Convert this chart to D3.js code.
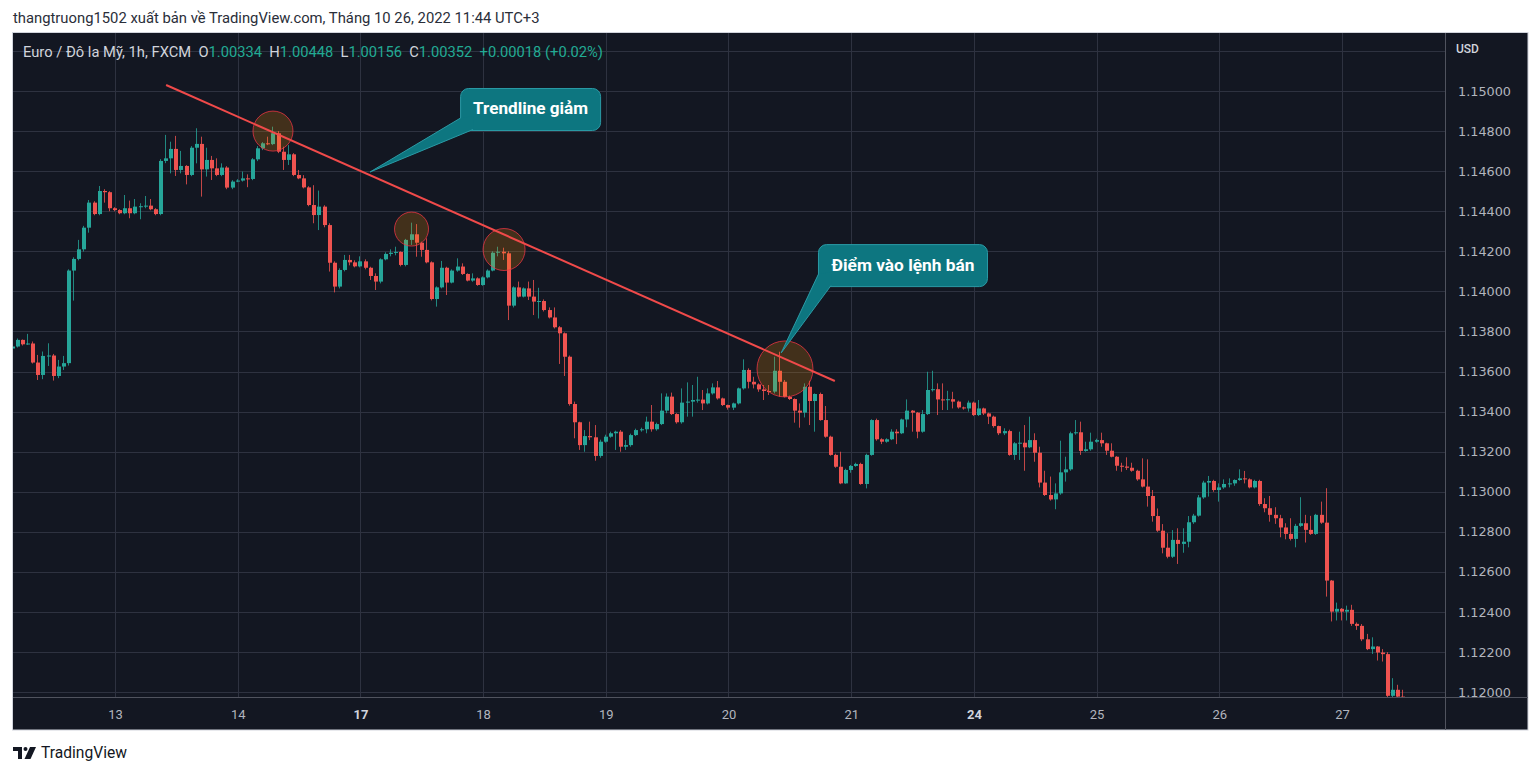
<!DOCTYPE html>
<html><head><meta charset="utf-8">
<script src="https://cdn.jsdelivr.net/npm/d3@7"></script>
<style>html,body{margin:0;padding:0;background:#fff;}svg{display:block;}</style>
</head><body>
<svg id="c" width="1536" height="775"></svg>
<script>
// ---------------- DATA (EUR/USD, 1h candles) ----------------
const openP=[
1.13715,1.13725,1.13758,1.13736,1.13740,1.13645,1.13583,1.13678,1.13680,1.13578,
1.13625,1.13642,1.14104,1.14162,1.14210,1.14318,1.14443,1.14386,1.14501,1.14495,
1.14415,1.14406,1.14390,1.14415,1.14390,1.14423,1.14425,1.14428,1.14410,1.14386,
1.14651,1.14664,1.14711,1.14606,1.14626,1.14581,1.14717,1.14736,1.14609,1.14656,
1.14614,1.14581,1.14618,1.14518,1.14548,1.14553,1.14564,1.14561,1.14659,1.14714,
1.14739,1.14735,1.14789,1.14697,1.14656,1.14684,1.14581,1.14564,1.14519,1.14431,
1.14381,1.14423,1.14331,1.14143,1.14024,1.14107,1.14157,1.14145,1.14125,1.14150,
1.14118,1.14077,1.14049,1.14160,1.14187,1.14193,1.14197,1.14132,1.14257,1.14285,
1.14243,1.14207,1.14145,1.13962,1.14020,1.14118,1.14044,1.14104,1.14124,1.14087,
1.14054,1.14065,1.14032,1.14070,1.14104,1.14193,1.14198,1.14190,1.13929,1.14020,
1.13974,1.14015,1.13974,1.13949,1.13952,1.13907,1.13870,1.13821,1.13791,1.13674,
1.13438,1.13347,1.13233,1.13278,1.13272,1.13179,1.13250,1.13275,1.13292,1.13300,
1.13225,1.13233,1.13283,1.13308,1.13312,1.13350,1.13312,1.13338,1.13405,1.13475,
1.13388,1.13347,1.13445,1.13450,1.13458,1.13460,1.13441,1.13491,1.13521,1.13466,
1.13433,1.13420,1.13441,1.13516,1.13608,1.13549,1.13536,1.13511,1.13503,1.13500,
1.13604,1.13549,1.13474,1.13463,1.13405,1.13395,1.13524,1.13453,1.13488,1.13358,
1.13275,1.13184,1.13125,1.13042,1.13109,1.13129,1.13139,1.13039,1.13184,1.13358,
1.13262,1.13250,1.13262,1.13300,1.13292,1.13361,1.13405,1.13395,1.13300,1.13388,
1.13508,1.13512,1.13461,1.13458,1.13462,1.13450,1.13421,1.13416,1.13445,1.13383,
1.13416,1.13391,1.13375,1.13328,1.13292,1.13303,1.13184,1.13242,1.13245,1.13222,
1.13258,1.13195,1.13046,1.12984,1.12962,1.12992,1.13097,1.13112,1.13292,1.13297,
1.13204,1.13212,1.13250,1.13258,1.13242,1.13205,1.13175,1.13130,1.13126,1.13120,
1.13105,1.13062,1.13026,1.12979,1.12879,1.12806,1.12721,1.12676,1.12760,1.12740,
1.12751,1.12848,1.12881,1.12972,1.13046,1.13054,1.13009,1.13022,1.13039,1.13042,
1.13059,1.13067,1.13062,1.13022,1.13054,1.12939,1.12918,1.12885,1.12868,1.12822,
1.12790,1.12765,1.12830,1.12843,1.12810,1.12790,1.12885,1.12846,1.12557,1.12402,
1.12416,1.12402,1.12411,1.12341,1.12331,1.12264,1.12215,1.12228,1.12198,1.12190,
1.11982,1.12012,1.11978];
const highP=[
1.13735,1.13765,1.13760,1.13788,1.13750,1.13683,1.13700,1.13741,1.13688,1.13658,
1.13678,1.14110,1.14170,1.14257,1.14327,1.14456,1.14450,1.14526,1.14510,1.14500,
1.14420,1.14410,1.14481,1.14453,1.14461,1.14440,1.14476,1.14461,1.14415,1.14660,
1.14781,1.14747,1.14776,1.14701,1.14630,1.14725,1.14814,1.14772,1.14717,1.14676,
1.14664,1.14639,1.14625,1.14555,1.14560,1.14598,1.14584,1.14665,1.14725,1.14745,
1.14772,1.14822,1.14800,1.14722,1.14730,1.14690,1.14606,1.14580,1.14525,1.14530,
1.14503,1.14430,1.14340,1.14150,1.14115,1.14182,1.14182,1.14155,1.14175,1.14160,
1.14123,1.14090,1.14165,1.14195,1.14210,1.14223,1.14200,1.14262,1.14343,1.14336,
1.14248,1.14265,1.14150,1.14025,1.14152,1.14123,1.14110,1.14165,1.14140,1.14090,
1.14090,1.14070,1.14075,1.14110,1.14200,1.14223,1.14218,1.14200,1.14025,1.14049,
1.14020,1.14049,1.14057,1.14018,1.13960,1.13920,1.13920,1.13827,1.13795,1.13680,
1.13450,1.13350,1.13308,1.13350,1.13333,1.13260,1.13285,1.13300,1.13305,1.13308,
1.13258,1.13290,1.13315,1.13320,1.13375,1.13433,1.13345,1.13491,1.13491,1.13495,
1.13392,1.13516,1.13546,1.13533,1.13574,1.13508,1.13516,1.13541,1.13553,1.13470,
1.13435,1.13445,1.13520,1.13661,1.13616,1.13574,1.13541,1.13533,1.13533,1.13674,
1.13699,1.13558,1.13480,1.13466,1.13441,1.13541,1.13554,1.13491,1.13495,1.13428,
1.13280,1.13190,1.13200,1.13115,1.13134,1.13145,1.13145,1.13190,1.13362,1.13365,
1.13267,1.13267,1.13312,1.13312,1.13365,1.13461,1.13408,1.13398,1.13408,1.13599,
1.13604,1.13541,1.13541,1.13504,1.13499,1.13455,1.13425,1.13455,1.13450,1.13458,
1.13420,1.13395,1.13380,1.13330,1.13317,1.13310,1.13248,1.13300,1.13333,1.13375,
1.13292,1.13225,1.13105,1.13076,1.13042,1.13255,1.13175,1.13300,1.13358,1.13350,
1.13250,1.13295,1.13265,1.13295,1.13245,1.13242,1.13178,1.13145,1.13172,1.13145,
1.13110,1.13167,1.13162,1.13009,1.12917,1.12839,1.12793,1.12809,1.12818,1.12818,
1.12879,1.12890,1.12984,1.13055,1.13079,1.13060,1.13042,1.13062,1.13067,1.13062,
1.13112,1.13104,1.13067,1.13060,1.13060,1.12968,1.12979,1.12923,1.12885,1.12843,
1.12868,1.12840,1.12973,1.12885,1.12880,1.12890,1.12951,1.13018,1.12560,1.12447,
1.12420,1.12432,1.12436,1.12348,1.12340,1.12291,1.12274,1.12230,1.12215,1.12200,
1.12070,1.12037,1.12012];
const lowP=[
1.13700,1.13720,1.13730,1.13733,1.13640,1.13558,1.13562,1.13628,1.13555,1.13567,
1.13608,1.13630,1.13954,1.14155,1.14199,1.14293,1.14380,1.14380,1.14443,1.14400,
1.14400,1.14385,1.14385,1.14365,1.14385,1.14360,1.14415,1.14405,1.14380,1.14380,
1.14640,1.14589,1.14576,1.14589,1.14534,1.14575,1.14639,1.14473,1.14573,1.14556,
1.14575,1.14575,1.14510,1.14510,1.14545,1.14548,1.14520,1.14555,1.14650,1.14705,
1.14730,1.14730,1.14690,1.14606,1.14631,1.14575,1.14560,1.14514,1.14425,1.14340,
1.14306,1.14320,1.14099,1.13995,1.14015,1.14100,1.14130,1.14120,1.14120,1.14110,
1.14057,1.14007,1.14040,1.14155,1.14175,1.14180,1.14125,1.14125,1.14232,1.14173,
1.14173,1.14140,1.13955,1.13924,1.14015,1.13982,1.14040,1.14098,1.14082,1.14050,
1.14048,1.14028,1.14028,1.14065,1.14100,1.14175,1.14157,1.13857,1.13920,1.13970,
1.13970,1.13957,1.13882,1.13865,1.13900,1.13865,1.13815,1.13638,1.13578,1.13430,
1.13267,1.13209,1.13200,1.13258,1.13155,1.13170,1.13245,1.13270,1.13209,1.13200,
1.13209,1.13225,1.13278,1.13300,1.13292,1.13300,1.13305,1.13333,1.13392,1.13383,
1.13340,1.13340,1.13375,1.13375,1.13445,1.13408,1.13436,1.13485,1.13460,1.13428,
1.13410,1.13408,1.13436,1.13510,1.13516,1.13516,1.13499,1.13458,1.13483,1.13491,
1.13474,1.13471,1.13458,1.13345,1.13320,1.13371,1.13333,1.13300,1.13355,1.13270,
1.13180,1.13120,1.13038,1.13040,1.13095,1.13125,1.13035,1.13017,1.13180,1.13255,
1.13238,1.13245,1.13258,1.13238,1.13288,1.13322,1.13300,1.13267,1.13295,1.13383,
1.13500,1.13383,1.13408,1.13408,1.13416,1.13415,1.13410,1.13400,1.13378,1.13378,
1.13383,1.13338,1.13320,1.13283,1.13283,1.13180,1.13159,1.13159,1.13105,1.13218,
1.13150,1.13022,1.12979,1.12956,1.12913,1.12985,1.13051,1.13105,1.13285,1.13184,
1.13200,1.13205,1.13245,1.13225,1.13184,1.13172,1.13105,1.13100,1.13109,1.13100,
1.13055,1.13022,1.12926,1.12851,1.12800,1.12693,1.12668,1.12670,1.12640,1.12696,
1.12723,1.12840,1.12876,1.12965,1.12976,1.13000,1.12951,1.13015,1.13022,1.13030,
1.13055,1.13042,1.13017,1.13017,1.12930,1.12898,1.12851,1.12840,1.12773,1.12763,
1.12757,1.12723,1.12825,1.12747,1.12785,1.12785,1.12840,1.12477,1.12353,1.12358,
1.12358,1.12358,1.12331,1.12311,1.12255,1.12210,1.12191,1.12158,1.12153,1.11975,
1.11975,1.11970,1.11960];
const closeP=[
1.13725,1.13758,1.13736,1.13740,1.13645,1.13583,1.13678,1.13680,1.13578,1.13625,
1.13642,1.14104,1.14162,1.14210,1.14318,1.14443,1.14386,1.14501,1.14495,1.14415,
1.14406,1.14390,1.14415,1.14390,1.14423,1.14425,1.14428,1.14410,1.14386,1.14651,
1.14664,1.14711,1.14606,1.14626,1.14581,1.14717,1.14736,1.14609,1.14656,1.14614,
1.14581,1.14618,1.14518,1.14548,1.14553,1.14564,1.14561,1.14659,1.14714,1.14739,
1.14735,1.14789,1.14697,1.14656,1.14684,1.14581,1.14564,1.14519,1.14431,1.14381,
1.14423,1.14331,1.14143,1.14024,1.14107,1.14157,1.14145,1.14125,1.14150,1.14118,
1.14077,1.14049,1.14160,1.14187,1.14193,1.14197,1.14132,1.14257,1.14285,1.14243,
1.14207,1.14145,1.13962,1.14020,1.14118,1.14044,1.14104,1.14124,1.14087,1.14054,
1.14065,1.14032,1.14070,1.14104,1.14193,1.14198,1.14190,1.13929,1.14020,1.13974,
1.14015,1.13974,1.13949,1.13952,1.13907,1.13870,1.13821,1.13791,1.13674,1.13438,
1.13347,1.13233,1.13278,1.13272,1.13179,1.13250,1.13275,1.13292,1.13300,1.13225,
1.13233,1.13283,1.13308,1.13312,1.13350,1.13312,1.13338,1.13405,1.13475,1.13388,
1.13347,1.13445,1.13450,1.13458,1.13460,1.13441,1.13491,1.13521,1.13466,1.13433,
1.13420,1.13441,1.13516,1.13608,1.13549,1.13536,1.13511,1.13503,1.13500,1.13604,
1.13549,1.13474,1.13463,1.13405,1.13395,1.13524,1.13453,1.13488,1.13358,1.13275,
1.13184,1.13125,1.13042,1.13109,1.13129,1.13139,1.13039,1.13184,1.13358,1.13262,
1.13250,1.13262,1.13300,1.13292,1.13361,1.13405,1.13395,1.13300,1.13388,1.13508,
1.13512,1.13461,1.13458,1.13462,1.13450,1.13421,1.13416,1.13445,1.13383,1.13416,
1.13391,1.13375,1.13328,1.13292,1.13303,1.13184,1.13242,1.13245,1.13222,1.13258,
1.13195,1.13046,1.12984,1.12962,1.12992,1.13097,1.13112,1.13292,1.13297,1.13204,
1.13212,1.13250,1.13258,1.13242,1.13205,1.13175,1.13130,1.13126,1.13120,1.13105,
1.13062,1.13026,1.12979,1.12879,1.12806,1.12721,1.12676,1.12760,1.12740,1.12751,
1.12848,1.12881,1.12972,1.13046,1.13054,1.13009,1.13022,1.13039,1.13042,1.13059,
1.13067,1.13062,1.13022,1.13054,1.12939,1.12918,1.12885,1.12868,1.12822,1.12790,
1.12765,1.12830,1.12843,1.12810,1.12790,1.12885,1.12846,1.12557,1.12402,1.12416,
1.12402,1.12411,1.12341,1.12331,1.12264,1.12215,1.12228,1.12198,1.12190,1.11982,
1.12012,1.11978,1.11975];

const dayTickIndex=[20,44,68,92,116,140,164,188,212,236,260];
const dayTickLabels=["13","14","17","18","19","20","21","24","25","26","27"];
const weekStartLabels=["17","24"];
const gridPrices=[1.120,1.122,1.124,1.126,1.128,1.130,1.132,1.134,1.136,1.138,1.140,1.142,1.144,1.146,1.148,1.150,1.152];
const axisPrices=[1.120,1.122,1.124,1.126,1.128,1.130,1.132,1.134,1.136,1.138,1.140,1.142,1.144,1.146,1.148,1.150];

const trendIdx=[30,160.8];
const trendPrice=[1.1503,1.13553];
const circleIdx=[50.9,78.0,96.1,151.05];
const circlePrice=[1.14800,1.14311,1.14209,1.13613];
const calloutText=["Trendline giảm","Điểm vào lệnh bán"];
const calloutTipIdx=[69.9,150.3];
const calloutTipPrice=[1.14596,1.13693];
const calloutBoxIdx=[87.5,157.5];
const calloutBoxPrice=[1.15015,1.14236];

const headerText="thangtruong1502 xuất bản về TradingView.com, Tháng 10 26, 2022 11:44 UTC+3";
const symbolText="Euro / Đô la Mỹ, 1h, FXCM";
const ohlcKeys=["O","H","L","C"];
const ohlcVals=["1.00334","1.00448","1.00156","1.00352"];
const changeText="+0.00018 (+0.02%)";
const currencyText="USD";
const brandText="TradingView";

// ---------------- LAYOUT / STYLE ----------------
const P={x0:13,x1:1445,y0:33,y1:697,ax1:1528,ay1:730};
const BG="#131722", GRID="#2e3240", SEP="#50535e", UP="#26a69a", DOWN="#ef5350", TXT="#b2b5be";
const circleR=[20,17,21,28];
const calloutSize=[[140,42],[169,42]];
const calloutTextW=[115,143];
const FONT="Roboto, 'Noto Sans', sans-serif";

const svg=d3.select("#c");
const x=d3.scaleLinear().domain([0,272]).range([12.75,1403.35]);
const y=d3.scaleLinear().domain([1.12,1.15]).range([692.2,91]);

function fit(sel,target){const w=sel.node().getComputedTextLength();const fs=parseFloat(sel.attr("font-size"));sel.attr("font-size",(fs*target/w).toFixed(2));return sel;}

// header
fit(svg.append("text").attr("x",13).attr("y",23).attr("font-family",FONT).attr("font-size",13)
  .attr("fill","#2a2e39").text(headerText),527);

// chart frame
svg.append("rect").attr("x",12.5).attr("y",32.5).attr("width",P.ax1-12.5).attr("height",P.ay1-32.5)
  .attr("fill",BG).attr("stroke","#d1d4dc").attr("stroke-width",1);

const defs=svg.append("defs");
defs.append("clipPath").attr("id","pane").append("rect").attr("x",P.x0).attr("y",P.y0).attr("width",P.x1-P.x0).attr("height",P.y1-P.y0);
defs.append("clipPath").attr("id","paxis").append("rect").attr("x",P.x1).attr("y",P.y0).attr("width",P.ax1-P.x1).attr("height",P.y1-P.y0);

const pane=svg.append("g").attr("clip-path","url(#pane)");
// grid
pane.selectAll("line.hg").data(gridPrices).join("line").attr("class","hg")
  .attr("x1",P.x0).attr("x2",P.x1).attr("y1",d=>Math.round(y(d))+0.5).attr("y2",d=>Math.round(y(d))+0.5)
  .attr("stroke",GRID).attr("stroke-width",1);
pane.selectAll("line.vg").data(dayTickIndex).join("line").attr("class","vg")
  .attr("y1",P.y0).attr("y2",P.y1).attr("x1",d=>Math.round(x(d))+0.5).attr("x2",d=>Math.round(x(d))+0.5)
  .attr("stroke",GRID).attr("stroke-width",1);

// candles
const candles=closeP.map((c,i)=>({i,o:openP[i],h:highP[i],l:lowP[i],c}));
const cg=pane.append("g");
cg.selectAll("line.w").data(candles).join("line").attr("class","w")
  .attr("x1",d=>Math.round(x(d.i))-0.5).attr("x2",d=>Math.round(x(d.i))-0.5)
  .attr("y1",d=>y(d.h)).attr("y2",d=>y(d.l))
  .attr("stroke",d=>d.c>=d.o?UP:DOWN).attr("stroke-opacity",0.8).attr("stroke-width",1);
cg.selectAll("rect.b").data(candles).join("rect").attr("class","b")
  .attr("x",d=>Math.round(x(d.i))-2).attr("width",4)
  .attr("y",d=>Math.min(y(d.o),y(d.c)))
  .attr("height",d=>Math.max(1,Math.abs(y(d.o)-y(d.c))))
  .attr("fill",d=>d.c>=d.o?UP:DOWN);

// highlight circles
pane.selectAll("circle.hl").data(circleIdx).join("circle").attr("class","hl")
  .attr("cx",(d,i)=>x(d)).attr("cy",(d,i)=>y(circlePrice[i])).attr("r",(d,i)=>circleR[i])
  .attr("fill","rgba(255,152,0,0.2)").attr("stroke","rgba(242,54,69,0.75)").attr("stroke-width",1);

// trendline
pane.append("line").attr("x1",x(trendIdx[0])).attr("y1",y(trendPrice[0]))
  .attr("x2",x(trendIdx[1])).attr("y2",y(trendPrice[1]))
  .attr("stroke","#f04a4a").attr("stroke-width",2);

// callouts
calloutText.forEach((t,i)=>{
  const bx=x(calloutBoxIdx[i]), by=y(calloutBoxPrice[i]);
  const [w,h]=calloutSize[i];
  const tx=x(calloutTipIdx[i]), ty=y(calloutTipPrice[i]);
  const g=pane.append("g");
  const ax=bx+0.5, ay=by+h-12, bxp=bx+13, byp=by+h-0.5;
  g.append("rect").attr("x",bx+0.5).attr("y",by+0.5).attr("width",w).attr("height",h).attr("rx",8)
    .attr("fill","#0d7680").attr("stroke","#2a9aa5").attr("stroke-width",1);
  g.append("path").attr("d",`M${ax},${ay}L${tx},${ty}L${bxp},${byp}L${bx+14},${by+h-14}Z`).attr("fill","#0d7680");
  g.append("path").attr("d",`M${ax},${ay}L${tx},${ty}L${bxp},${byp}`).attr("fill","none").attr("stroke","#2a9aa5").attr("stroke-width",1);
  fit(g.append("text").attr("x",bx+w/2+0.5).attr("y",by+h/2+5.5).attr("text-anchor","middle")
    .attr("font-family",FONT).attr("font-weight","bold").attr("font-size",15).attr("fill","#ffffff").text(t),calloutTextW[i]);
});

// legend
const lg=svg.append("text").attr("x",23).attr("y",56.5).attr("font-family",FONT).attr("font-size",13)
  .attr("fill","#d1d4dc").style("white-space","pre");
lg.append("tspan").text(symbolText+"  ");
ohlcKeys.forEach((k,i)=>{lg.append("tspan").attr("fill","#d1d4dc").text(k);lg.append("tspan").attr("fill","#22ab94").text(ohlcVals[i]+"  ");});
lg.append("tspan").attr("fill","#22ab94").text(changeText);
fit(lg,580);

// separators
svg.append("line").attr("x1",P.x1+0.5).attr("x2",P.x1+0.5).attr("y1",P.y0).attr("y2",P.ay1).attr("stroke",SEP);
svg.append("line").attr("x1",P.x0).attr("x2",P.ax1).attr("y1",P.y1+0.5).attr("y2",P.y1+0.5).attr("stroke",SEP);

// price axis
const pa=svg.append("g").attr("clip-path","url(#paxis)");
const first=pa.append("text").attr("font-family","'DejaVu Sans', sans-serif").attr("font-size",12).text(axisPrices[0].toFixed(5));
fit(first,53); const pfs=first.attr("font-size"); first.remove();
pa.selectAll("text.pl").data(axisPrices).join("text").attr("class","pl")
  .attr("x",1458).attr("y",d=>y(d)+4.5).attr("font-family","'DejaVu Sans', sans-serif").attr("font-size",pfs)
  .attr("fill",TXT).text(d=>d.toFixed(5));
svg.append("text").attr("x",1456).attr("y",53).attr("font-family",FONT).attr("font-size",12)
  .attr("font-weight","500").attr("fill","#d1d4dc").text(currencyText);

// time axis
svg.selectAll("text.tl").data(dayTickIndex).join("text").attr("class","tl")
  .attr("x",d=>x(d)+0.5).attr("y",718.5).attr("text-anchor","middle").attr("font-family",FONT).attr("font-size",13)
  .attr("font-weight",(d,i)=>weekStartLabels.includes(dayTickLabels[i])?"bold":"normal")
  .attr("fill",(d,i)=>weekStartLabels.includes(dayTickLabels[i])?"#d1d4dc":TXT)
  .text((d,i)=>dayTickLabels[i]);

// footer brand
const fg=svg.append("g").attr("fill","#131722");
fg.append("path").attr("d","M13,747h9v12h-4v-8h-5z");
fg.append("circle").attr("cx",25.5).attr("cy",749).attr("r",2);
fg.append("path").attr("d","M30,747h6l-5.5,12h-6z");
fit(svg.append("text").attr("x",41).attr("y",758).attr("font-family",FONT).attr("font-size",15).attr("fill","#131722").text(brandText),86);
</script>
</body></html>
